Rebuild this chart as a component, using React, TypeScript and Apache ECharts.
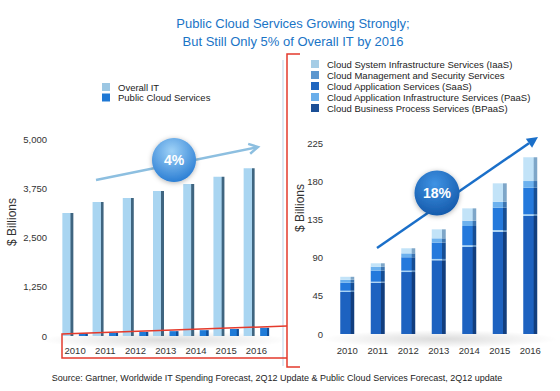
import React, { useEffect, useRef } from 'react';
import * as echarts from 'echarts';

const years = ['2010', '2011', '2012', '2013', '2014', '2015', '2016'];
// Left chart ($ Billions)
const overallIT = [3120, 3400, 3500, 3680, 3860, 4040, 4260];
const publicCloud = [67, 83, 101, 123, 148, 178, 208];
// Right chart segments ($ Billions)
const bpaas = [49.5, 60.4, 73, 86.8, 102.5, 120.5, 139];
const paas = [1.5, 1.2, 1.6, 1.6, 2, 2, 2];
const saas = [9.4, 13, 15.8, 19.2, 22.7, 26.3, 31.3];
const mgmt = [3.5, 4.7, 4.6, 5.1, 6.3, 7, 7.9];
const iaas = [3.5, 4, 6, 10.6, 14.5, 21.7, 28];

const leftMax = 5000;
const leftInterval = 1250;
const rightMax = 225;
const rightInterval = 45;

const FONT = 'Liberation Sans, Arial, sans-serif';

function sideGrad(main: string, side: string) {
  return new echarts.graphic.LinearGradient(0, 0, 1, 0, [
    { offset: 0, color: main },
    { offset: 0.72, color: main },
    { offset: 0.76, color: side },
    { offset: 1, color: side },
  ]);
}

function arrowHead(tip: [number, number], from: [number, number], len: number, half: number) {
  const dx = tip[0] - from[0];
  const dy = tip[1] - from[1];
  const d = Math.sqrt(dx * dx + dy * dy);
  const ux = dx / d, uy = dy / d;
  const nx = -uy, ny = ux;
  const bx = tip[0] - ux * len, by = tip[1] - uy * len;
  return {
    back: [bx, by] as [number, number],
    pts: [[bx + nx * half, by + ny * half], tip, [bx - nx * half, by - ny * half]],
  };
}

export default function App() {
  const ref = useRef<HTMLDivElement>(null);
  useEffect(() => {
    const chart = echarts.init(ref.current!, null, { renderer: 'svg' });

    const lA: [number, number] = [96, 180];
    const lB: [number, number] = [258, 147];
    const lHead = arrowHead(lB, lA, 9, 5);
    const rA: [number, number] = [377, 248];
    const rB: [number, number] = [538, 137];
    const rHead = arrowHead(rB, rA, 11, 5.5);

    const axisLabel = { color: '#333', fontSize: 9.5, fontFamily: FONT };
    const legendText = { fontSize: 9.5, color: '#222', fontFamily: FONT, padding: [0, 0, 0, 3] };

    const option: any = {
      animation: false,
      backgroundColor: '#ffffff',
      title: {
        text: 'Public Cloud Services Growing Strongly;\nBut Still Only 5% of Overall IT by 2016',
        left: 288,
        top: 9,
        textAlign: 'center',
        textStyle: { fontSize: 13, fontWeight: 'normal', color: '#1a74c6', lineHeight: 18, fontFamily: FONT, align: 'center' },
      },
      legend: [
        {
          orient: 'vertical', left: 102, top: 82, padding: 0, itemWidth: 8, itemHeight: 8, itemGap: 0.5, icon: 'rect',
          selectedMode: false,
          textStyle: legendText,
          data: [
            { name: 'Overall IT', itemStyle: { color: '#9cc7e3' } },
            { name: 'Public Cloud Services', itemStyle: { color: '#1f78d4' } },
          ],
        },
        {
          orient: 'vertical', left: 311, top: 59, padding: 0, itemWidth: 8, itemHeight: 8, itemGap: 1, icon: 'rect',
          selectedMode: false,
          textStyle: legendText,
          data: [
            { name: 'Cloud System Infrastructure Services (IaaS)', itemStyle: { color: '#a5cde6' } },
            { name: 'Cloud Management and Security Services', itemStyle: { color: '#5c97cf' } },
            { name: 'Cloud Application Services (SaaS)', itemStyle: { color: '#1f66bf' } },
            { name: 'Cloud Application Infrastructure Services (PaaS)', itemStyle: { color: '#6aaeea' } },
            { name: 'Cloud Business Process Services (BPaaS)', itemStyle: { color: '#1b4f96' } },
          ],
        },
      ],
      grid: [
        { left: 60, right: 288.5, top: 139, bottom: 55 },
        { left: 332, right: 14.5, top: 143, bottom: 57 },
      ],
      xAxis: [
        {
          gridIndex: 0, type: 'category', data: years,
          axisLine: { show: false }, axisTick: { show: false },
          axisLabel: { ...axisLabel, margin: 9 },
        },
        {
          gridIndex: 1, type: 'category', data: years,
          axisLine: { show: false }, axisTick: { show: false },
          axisLabel: { ...axisLabel, margin: 11 },
        },
      ],
      yAxis: [
        {
          gridIndex: 0, type: 'value', min: 0, max: leftMax, interval: leftInterval,
          axisLine: { show: false }, axisTick: { show: false }, splitLine: { show: false },
          axisLabel: { ...axisLabel, margin: 13, formatter: (v: number) => v.toLocaleString('en-US') },
        },
        {
          gridIndex: 1, type: 'value', min: 0, max: rightMax, interval: rightInterval,
          axisLine: { show: false }, axisTick: { show: false }, splitLine: { show: false },
          axisLabel: { ...axisLabel, margin: 9 },
        },
      ],
      series: [
        {
          name: 'Overall IT', type: 'bar', xAxisIndex: 0, yAxisIndex: 0, data: overallIT,
          barWidth: 11, barGap: '50%',
          itemStyle: { color: sideGrad('#a9d5f1', '#3f6580') },
        },
        {
          name: 'Public Cloud Services', type: 'bar', xAxisIndex: 0, yAxisIndex: 0, data: publicCloud,
          barWidth: 9,
          itemStyle: { color: sideGrad('#1f7bd8', '#0f4f9a') },
        },
        {
          name: 'Cloud Business Process Services (BPaaS)', type: 'bar', stack: 'cloud', xAxisIndex: 1, yAxisIndex: 1,
          data: bpaas, barWidth: 14, itemStyle: { color: sideGrad('#1d62c0', '#123e7e') },
        },
        {
          name: 'Cloud Application Infrastructure Services (PaaS)', type: 'bar', stack: 'cloud', xAxisIndex: 1, yAxisIndex: 1,
          data: paas, barWidth: 14, itemStyle: { color: sideGrad('#a9d4f5', '#5f8fc0') },
        },
        {
          name: 'Cloud Application Services (SaaS)', type: 'bar', stack: 'cloud', xAxisIndex: 1, yAxisIndex: 1,
          data: saas, barWidth: 14, itemStyle: { color: sideGrad('#2479dc', '#164e94') },
        },
        {
          name: 'Cloud Management and Security Services', type: 'bar', stack: 'cloud', xAxisIndex: 1, yAxisIndex: 1,
          data: mgmt, barWidth: 14, itemStyle: { color: sideGrad('#6cb1ee', '#3d75b0') },
        },
        {
          name: 'Cloud System Infrastructure Services (IaaS)', type: 'bar', stack: 'cloud', xAxisIndex: 1, yAxisIndex: 1,
          data: iaas, barWidth: 14, itemStyle: { color: sideGrad('#c2e3f8', '#7ea6c8') },
        },
      ],
      graphic: [
        // soft floor shadows
        {
          type: 'ellipse', z: 0, shape: { cx: 165, cy: 340, rx: 125, ry: 9 },
          style: { fill: new echarts.graphic.RadialGradient(0.5, 0.5, 0.5, [
            { offset: 0, color: 'rgba(0,0,0,0.14)' }, { offset: 1, color: 'rgba(0,0,0,0)' }]) },
        },
        {
          type: 'ellipse', z: 0, shape: { cx: 440, cy: 339, rx: 118, ry: 9 },
          style: { fill: new echarts.graphic.RadialGradient(0.5, 0.5, 0.5, [
            { offset: 0, color: 'rgba(0,0,0,0.14)' }, { offset: 1, color: 'rgba(0,0,0,0)' }]) },
        },
        // faint separator
        { type: 'line', z: 1, shape: { x1: 283, y1: 60, x2: 283, y2: 366 }, style: { stroke: '#dfe9f3', lineWidth: 2 } },
        // red bracket and box
        { type: 'polyline', z: 5, shape: { points: [[300, 54], [287, 54], [287, 367], [300, 367]] }, style: { stroke: '#e43a2c', lineWidth: 1.5, fill: 'none' } },
        { type: 'polyline', z: 5, shape: { points: [[287, 326], [62, 334], [62, 358], [287, 358]] }, style: { stroke: '#e43a2c', lineWidth: 1.5, fill: 'none' } },
        // axis names
        {
          type: 'text', z: 5, x: 12, y: 222, rotation: Math.PI / 2,
          style: { text: '$ Billions', fontSize: 12, fontFamily: FONT, fill: '#333', align: 'center', verticalAlign: 'middle' },
        },
        {
          type: 'text', z: 5, x: 300, y: 208, rotation: Math.PI / 2,
          style: { text: '$ Billions', fontSize: 12, fontFamily: FONT, fill: '#333', align: 'center', verticalAlign: 'middle' },
        },
        // left arrow
        { type: 'line', z: 8, shape: { x1: lA[0], y1: lA[1], x2: lB[0] - 1, y2: lB[1] + 0.2 }, style: { stroke: '#8dbfe0', lineWidth: 2.5 } },
        { type: 'polyline', z: 8, shape: { points: lHead.pts }, style: { stroke: '#8dbfe0', lineWidth: 2.5, fill: 'none' } },
        {
          type: 'circle', z: 9, shape: { cx: 174, cy: 160, r: 22 },
          style: {
            fill: new echarts.graphic.RadialGradient(0.45, 0.3, 0.75, [
              { offset: 0, color: '#9fd2f7' }, { offset: 1, color: '#2479d2' }]),
            shadowBlur: 5, shadowColor: 'rgba(0,0,0,0.3)', shadowOffsetY: 1,
          },
        },
        {
          type: 'text', z: 10, x: 174, y: 160,
          style: { text: '4%', fontSize: 14, fontWeight: 'bold', fontFamily: FONT, fill: '#ffffff', align: 'center', verticalAlign: 'middle' },
        },
        // right arrow
        { type: 'line', z: 8, shape: { x1: rA[0], y1: rA[1], x2: rHead.back[0], y2: rHead.back[1] }, style: { stroke: '#1a6fc9', lineWidth: 2.5 } },
        { type: 'polygon', z: 8, shape: { points: rHead.pts }, style: { fill: '#1a6fc9' } },
        {
          type: 'circle', z: 9, shape: { cx: 437, cy: 193, r: 22.5 },
          style: {
            fill: new echarts.graphic.RadialGradient(0.45, 0.3, 0.75, [
              { offset: 0, color: '#3f93e4' }, { offset: 1, color: '#1357a8' }]),
            shadowBlur: 5, shadowColor: 'rgba(0,0,0,0.3)', shadowOffsetY: 1,
          },
        },
        {
          type: 'text', z: 10, x: 437, y: 193,
          style: { text: '18%', fontSize: 14, fontWeight: 'bold', fontFamily: FONT, fill: '#ffffff', align: 'center', verticalAlign: 'middle' },
        },
        // source
        {
          type: 'text', z: 5, x: 277, y: 378,
          style: { text: 'Source: Gartner, Worldwide IT Spending Forecast, 2Q12 Update & Public Cloud Services Forecast, 2Q12 update', fontSize: 9, fontFamily: FONT, fill: '#222', align: 'center', verticalAlign: 'middle' },
        },
      ],
    };

    chart.setOption(option);
    return () => chart.dispose();
  }, []);

  return (
    <div
      ref={ref}
      style={{ position: 'fixed', left: 0, top: 0, width: 560, height: 391, background: '#fff' }}
    />
  );
}
